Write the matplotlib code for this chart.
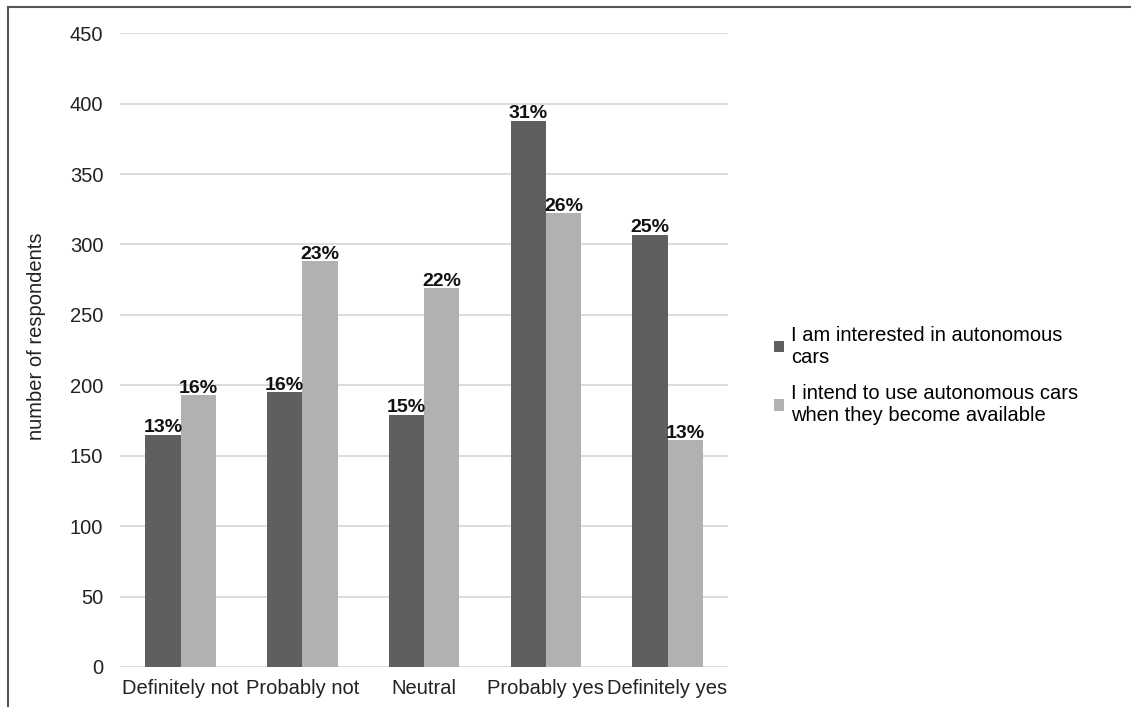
import numpy as np
import matplotlib.pyplot as plt
from matplotlib.lines import Line2D

plt.rcParams['font.family'] = ['Liberation Sans', 'DejaVu Sans']

categories = ['Definitely not', 'Probably not', 'Neutral', 'Probably yes', 'Definitely yes']
interested = [165, 195, 179, 388, 307]
intend = [193, 288, 269, 322, 161]
interested_pct = ['13%', '16%', '15%', '31%', '25%']
intend_pct = ['16%', '23%', '22%', '26%', '13%']
series_names = ['I am interested in autonomous\ncars',
                'I intend to use autonomous cars\nwhen they become available']
yticks = [0, 50, 100, 150, 200, 250, 300, 350, 400, 450]

dark = '#5f5f5f'
light = '#b1b1b1'

fig = plt.figure(figsize=(11.31, 7.07), dpi=100)
ax = fig.add_axes([0.106, 0.0566, 0.538, 0.8964])

x = np.arange(len(categories))
w = 0.29
b1 = ax.bar(x - w / 2, interested, w, color=dark, label=series_names[0], zorder=2)
b2 = ax.bar(x + w / 2, intend, w, color=light, label=series_names[1], zorder=2)

for bars, labels in ((b1, interested_pct), (b2, intend_pct)):
    for rect, lab in zip(bars, labels):
        ax.annotate(lab, (rect.get_x() + rect.get_width() / 2, rect.get_height()),
                    xytext=(0, -1), textcoords='offset points', ha='center', va='bottom',
                    fontsize=14, fontweight='bold', color='#111111')

ax.set_xlim(-0.5, len(categories) - 0.5)
ax.set_ylim(0, 450)
ax.set_yticks(yticks)
ax.yaxis.grid(True, color='#d9d9d9', linewidth=1.3, zorder=0)
ax.set_axisbelow(True)
for s in ax.spines.values():
    s.set_visible(False)
ax.tick_params(axis='both', length=0, labelsize=14.5, colors='#222222')
ax.tick_params(axis='y', pad=12)
ax.tick_params(axis='x', pad=9)
ax.set_xticks(x)
ax.set_xticklabels(categories)
ax.set_ylabel('number of respondents', fontsize=14.5, color='#222222')
ax.yaxis.set_label_coords(-0.122, 0.522)

ax.legend(loc='center left', bbox_to_anchor=(0.668, 0.469), bbox_transform=fig.transFigure,
          frameon=False, fontsize=14.5, handlelength=0.5, handleheight=0.5,
          handletextpad=0.35, labelspacing=0.85)

# outer frame on the left and top edges
fig.add_artist(Line2D([0.0075, 0.0075], [0, 0.99], transform=fig.transFigure,
                      color='#555555', linewidth=1.5))
fig.add_artist(Line2D([0.0075, 1.0], [0.99, 0.99], transform=fig.transFigure,
                      color='#555555', linewidth=1.5))

fig.savefig('out.png', dpi=100, facecolor='white')
